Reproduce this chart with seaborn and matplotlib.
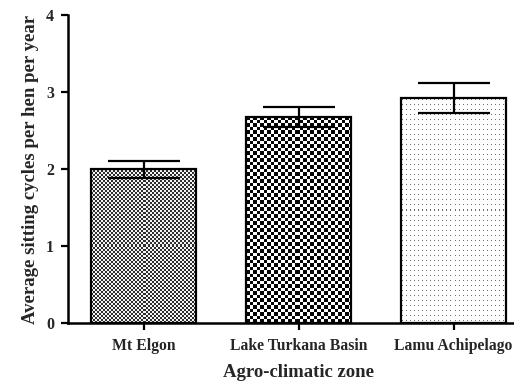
import numpy as np
import pandas as pd
import matplotlib
matplotlib.use("Agg")
import matplotlib.pyplot as plt
import seaborn as sns

zones = ["Mt Elgon", "Lake Turkana Basin", "Lamu Achipelago"]
mean_cycles = [2.00, 2.68, 2.92]
sem_cycles = [0.11, 0.13, 0.19]
y_ticks = [0, 1, 2, 3, 4]

sns.set_theme(style="ticks")
plt.rcParams["font.family"] = ["Liberation Serif", "DejaVu Serif"]
plt.rcParams["font.weight"] = "bold"

df = pd.DataFrame({"zone": zones, "cycles": mean_cycles})

fig = plt.figure(figsize=(5.14, 3.82), dpi=100)
ax = fig.add_axes([0.132, 0.154, 0.898, 0.807])

sns.barplot(data=df, x="zone", y="cycles", order=zones, errorbar=None,
            width=0.68, color="white", edgecolor="black", linewidth=1.6,
            ax=ax, zorder=2)

ax.set_xlim(-0.49, 2.49)
ax.set_ylim(0, 4)
ax.set_yticks(y_ticks)
ax.set_yticklabels([str(t) for t in y_ticks])


def fine_checker(i, j):
    return ((i // 2) + (j // 2)) % 2 == 0


def coarse_checker(i, j):
    return (np.floor(i / 3.5) + np.floor(j / 3.5)) % 2 == 0


def sparse_dots(i, j):
    return (i % 5 == 2) & (j % 4 == 1)


# pixel textures for each bar: (pattern, ink colour, paper colour)
textures = [
    (fine_checker, "#2e2e2e", "#f4f4f4"),
    (coarse_checker, "#050505", "#ffffff"),
    (sparse_dots, "#6e6e6e", "#ffffff"),
]
fig.canvas.draw()
px_per_y = ax.transData.transform((0, 1))[1] - ax.transData.transform((0, 0))[1]
px_per_x = ax.transData.transform((1, 0))[0] - ax.transData.transform((0, 0))[0]
for bar, (pattern, ink, paper) in zip(ax.patches, textures):
    x0, w, h = bar.get_x(), bar.get_width(), bar.get_height()
    nx = max(int(round(w * px_per_x)), 1)
    ny = max(int(round(h * px_per_y)), 1)
    ii, jj = np.meshgrid(np.arange(ny), np.arange(nx), indexing="ij")
    mask = pattern(ii, jj)
    rgb_ink = np.array(matplotlib.colors.to_rgb(ink))
    rgb_paper = np.array(matplotlib.colors.to_rgb(paper))
    img = np.where(mask[..., None], rgb_ink, rgb_paper)
    im = ax.imshow(img, extent=(x0, x0 + w, 0, h), origin="lower",
                   interpolation="nearest", aspect="auto", zorder=1.5)
    im.set_clip_path(bar)
    bar.set_facecolor("none")
ax.set_aspect("auto")
ax.set_xlim(-0.49, 2.49)
ax.set_ylim(0, 4)

ax.errorbar(range(len(zones)), mean_cycles, yerr=sem_cycles, fmt="none",
            ecolor="black", elinewidth=1.6, capsize=26, capthick=1.6, zorder=3)

sns.despine(ax=ax)
for side in ("left", "bottom"):
    ax.spines[side].set_linewidth(1.8)
    ax.spines[side].set_color("black")
ax.tick_params(axis="both", width=1.6, length=5, color="black", labelsize=11.3)
ax.tick_params(axis="y", pad=5, labelsize=11.5)
ax.tick_params(axis="x", pad=6)
for lab in ax.get_xticklabels() + ax.get_yticklabels():
    lab.set_fontweight("bold")

ax.set_xlabel("Agro-climatic zone", fontsize=13.5, fontweight="bold", labelpad=7)
ax.set_ylabel("Average sitting cycles per hen per year", fontsize=13.5,
              fontweight="bold", labelpad=5)

fig.savefig("out.png", dpi=100)
